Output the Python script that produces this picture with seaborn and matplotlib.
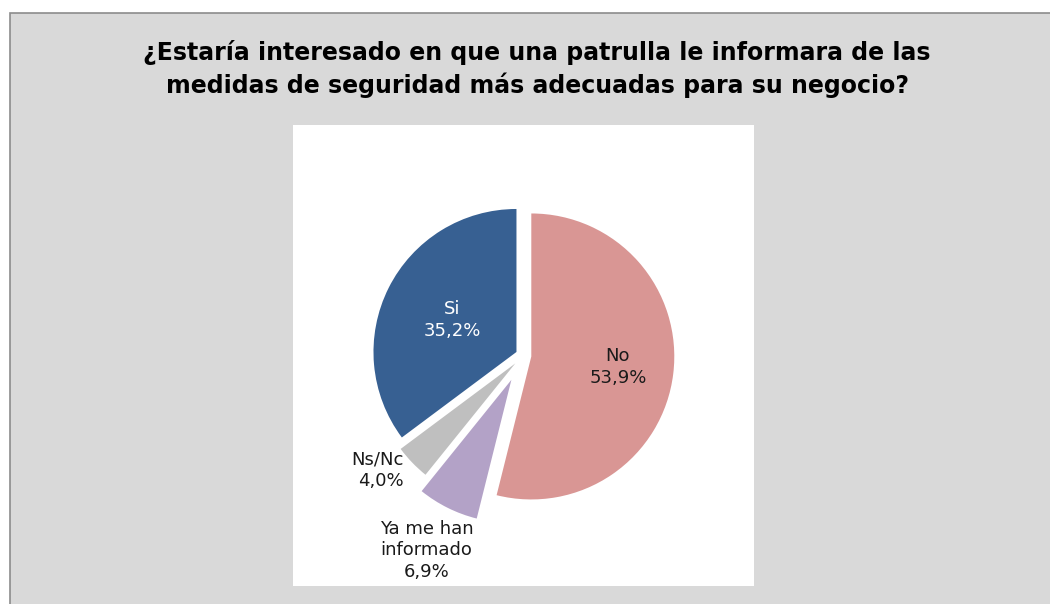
import numpy as np
import seaborn as sns
import matplotlib.pyplot as plt
from matplotlib.patches import Rectangle

sns.set_theme(style="white")
plt.rcParams['font.family'] = ['DejaVu Sans']

# ------------------------------------------------------------
# DATA
# ------------------------------------------------------------
title = ("¿Estaría interesado en que una patrulla le informara de las\n"
         "medidas de seguridad más adecuadas para su negocio?")
categories = ["No", "Ya me han\ninformado", "Ns/Nc", "Si"]
values = [53.9, 6.9, 4.0, 35.2]
value_labels = ["53,9%", "6,9%", "4,0%", "35,2%"]

colors = ["#D99694", "#B3A2C7", "#BFBFBF", "#376092"]
explode = [0.055, 0.19, 0.08, 0.055]
label_dist = [0.61, 1.33, 1.08, 0.50]
label_ha = ["center", "center", "right", "center"]
label_color = ["#1a1a1a", "#1a1a1a", "#1a1a1a", "white"]

# ------------------------------------------------------------
# FIGURE
# ------------------------------------------------------------
W, H = 1050, 604
fig = plt.figure(figsize=(W / 100, H / 100), dpi=100)
fig.patch.set_facecolor("white")

# grey chart area with border (behind everything)
fig.patches.append(Rectangle((10 / W, -0.05), 1.1, 1 - 13 / H + 0.05,
                             transform=fig.transFigure, facecolor="#D9D9D9",
                             edgecolor="#8C8C8C", linewidth=1.2, zorder=-10))

fig.text(537 / W, 1 - 69 / H, title, ha="center", va="center",
         fontsize=17, fontweight="bold", color="black", linespacing=1.4)

ax = fig.add_axes([293 / W, 18 / H, 461 / W, 461 / H])
ax.set_zorder(5)

wedges, _ = ax.pie(values, colors=colors, explode=explode, startangle=90,
                   counterclock=False, radius=1.0,
                   wedgeprops=dict(linewidth=0))

for w, lab, val, d, ex, ha, c in zip(wedges, categories, value_labels,
                                     label_dist, explode, label_ha, label_color):
    mid = np.deg2rad((w.theta1 + w.theta2) / 2)
    r = ex + d
    ax.text(r * np.cos(mid), r * np.sin(mid), f"{lab}\n{val}",
            ha=ha, va="center", fontsize=13, color=c, linespacing=1.25)

# white plot area (pie() switches the frame off)
ax.set_frame_on(True)
ax.set_facecolor("white")
ax.set_xlim(-1.612, 1.612)
ax.set_ylim(-1.612, 1.612)
ax.set_aspect("equal")
ax.set_xticks([])
ax.set_yticks([])
for s in ax.spines.values():
    s.set_visible(False)

fig.savefig("out.png", dpi=100)
